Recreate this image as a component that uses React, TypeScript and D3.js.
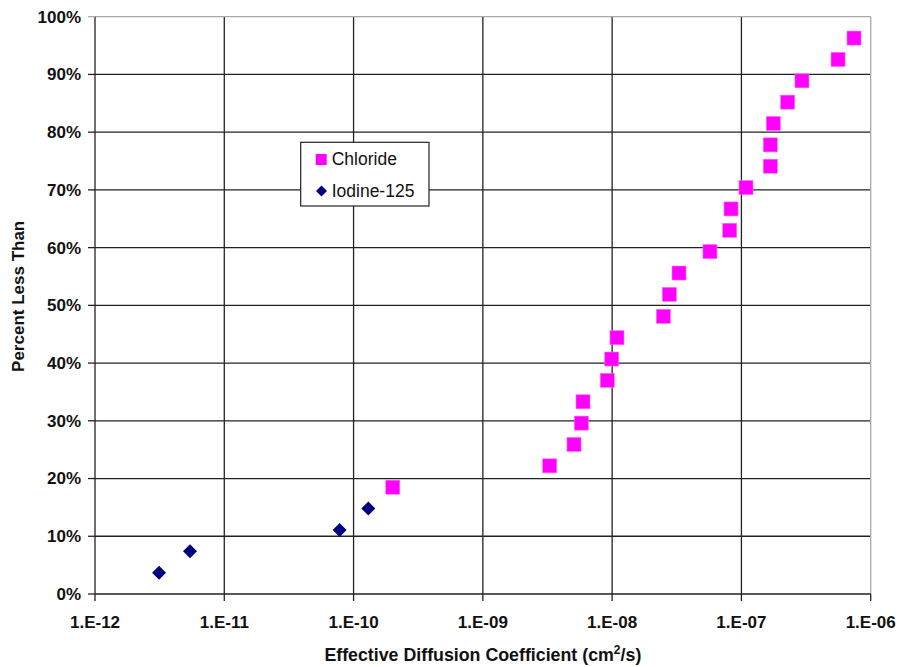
import React from "react";
import * as d3 from "d3";

// Effective diffusion coefficients (cm²/s) and cumulative percent less than
const chlorideD = [
  2.01e-10, 3.29e-9, 5.07e-9, 5.78e-9, 5.95e-9, 9.18e-9, 9.93e-9, 1.09e-8,
  2.49e-8, 2.77e-8, 3.29e-8, 5.71e-8, 8.12e-8, 8.31e-8, 1.085e-7, 1.673e-7,
  1.673e-7, 1.764e-7, 2.28e-7, 2.94e-7, 5.59e-7, 7.43e-7,
];
const chloridePct = [
  18.5, 22.2, 25.9, 29.6, 33.3, 37.0, 40.7, 44.4, 48.1, 51.9, 55.6, 59.3,
  63.0, 66.7, 70.4, 74.1, 77.8, 81.5, 85.2, 88.9, 92.6, 96.3,
];
const iodineD = [3.13e-12, 5.43e-12, 7.8e-11, 1.3e-10];
const iodinePct = [3.7, 7.4, 11.1, 14.8];

const xTicks = [1e-12, 1e-11, 1e-10, 1e-9, 1e-8, 1e-7, 1e-6];
const xTickLabels = ["1.E-12", "1.E-11", "1.E-10", "1.E-09", "1.E-08", "1.E-07", "1.E-06"];
const yTicks = [0, 10, 20, 30, 40, 50, 60, 70, 80, 90, 100];

const W = 898;
const H = 667;
const M = { left: 95, right: 870.7, top: 16.7, bottom: 594 };
const FONT = "Arial, 'Liberation Sans', sans-serif";
const MAGENTA = "#ff00ff";
const NAVY = "#000080";

export default function App() {
  const x = d3.scaleLog().domain([1e-12, 1e-6]).range([M.left, M.right]);
  const y = d3.scaleLinear().domain([0, 100]).range([M.bottom, M.top]);

  const sq = 14;
  const dm = 7;
  const diamond = (cx: number, cy: number, r: number) =>
    `M${cx},${cy - r}L${cx + r},${cy}L${cx},${cy + r}L${cx - r},${cy}Z`;

  return (
    <div style={{ position: "fixed", left: 0, top: 0 }}>
      <svg width={W} height={H} style={{ display: "block", background: "#fff" }}>
        {/* horizontal gridlines */}
        {yTicks.slice(1, -1).map((t) => (
          <line key={"hy" + t} x1={M.left} x2={M.right} y1={y(t)} y2={y(t)} stroke="#222" strokeWidth={1.3} />
        ))}
        {/* vertical gridlines */}
        {xTicks.slice(1, -1).map((t) => (
          <line key={"vx" + t} x1={x(t)} x2={x(t)} y1={M.top} y2={M.bottom} stroke="#222" strokeWidth={1.3} />
        ))}
        {/* plot frame top and right */}
        <line x1={M.left} x2={M.right} y1={M.top} y2={M.top} stroke="#a8a8a8" strokeWidth={1.3} />
        <line x1={M.right} x2={M.right} y1={M.top} y2={M.bottom} stroke="#a8a8a8" strokeWidth={1.3} />
        {/* axes */}
        <line x1={M.left} x2={M.left} y1={M.top} y2={M.bottom} stroke="#222" strokeWidth={1.3} />
        <line x1={M.left} x2={M.right} y1={M.bottom} y2={M.bottom} stroke="#222" strokeWidth={1.3} />
        {yTicks.map((t) => (
          <g key={"yt" + t}>
            <line x1={M.left - 7} x2={M.left} y1={y(t)} y2={y(t)} stroke={t === 100 ? "#a8a8a8" : "#222"} strokeWidth={1.3} />
            <text x={81} y={y(t)} dy="0.35em" textAnchor="end" fontFamily={FONT} fontWeight="bold" fontSize={17} fill="#111">
              {t + "%"}
            </text>
          </g>
        ))}
        {xTicks.map((t, i) => (
          <g key={"xt" + t}>
            <line x1={x(t)} x2={x(t)} y1={M.bottom} y2={M.bottom + 7} stroke="#222" strokeWidth={1.3} />
            <text x={x(t)} y={627.5} textAnchor="middle" fontFamily={FONT} fontWeight="bold" fontSize={17} fill="#111">
              {xTickLabels[i]}
            </text>
          </g>
        ))}
        {/* axis titles */}
        <text x={(M.left + M.right) / 2} y={660.5} textAnchor="middle" fontFamily={FONT} fontWeight="bold" fontSize={17.8} fill="#111">
          Effective Diffusion Coefficient (cm
          <tspan fontSize={12} dy={-7}>2</tspan>
          <tspan dy={7}>/s)</tspan>
        </text>
        <text
          transform={`translate(24, ${(M.top + M.bottom) / 2 - 9}) rotate(-90)`}
          textAnchor="middle"
          fontFamily={FONT}
          fontWeight="bold"
          fontSize={17}
          fill="#111"
        >
          Percent Less Than
        </text>
        {/* Chloride points */}
        {chlorideD.map((d, i) => (
          <rect key={"c" + i} x={x(d) - sq / 2} y={y(chloridePct[i]) - sq / 2} width={sq} height={sq} fill={MAGENTA} stroke="#ff66ff" strokeWidth={0.6} />
        ))}
        {/* Iodine-125 points */}
        {iodineD.map((d, i) => (
          <path key={"i" + i} d={diamond(x(d), y(iodinePct[i]), dm)} fill={NAVY} />
        ))}
        {/* legend */}
        <g>
          <rect x={300.7} y={142.3} width={128.3} height={63.7} fill="#fff" stroke="#222" strokeWidth={1.2} />
          <rect x={315.7} y={154} width={11} height={11} fill={MAGENTA} />
          <text x={331.7} y={165} fontFamily={FONT} fontSize={17.5} fill="#111">Chloride</text>
          <path d={diamond(321.5, 191, 5.5)} fill={NAVY} />
          <text x={331.7} y={197} fontFamily={FONT} fontSize={17.5} fill="#111">Iodine-125</text>
        </g>
      </svg>
    </div>
  );
}
